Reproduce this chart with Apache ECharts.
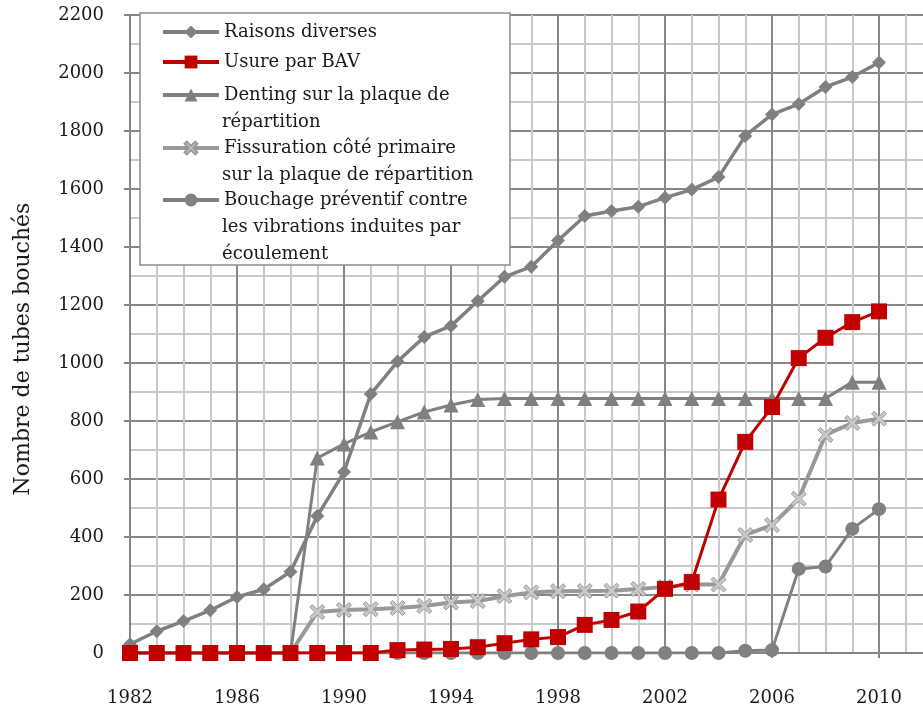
<!DOCTYPE html>
<html>
<head>
<meta charset="utf-8">
<script src="https://cdn.jsdelivr.net/npm/echarts@6/dist/echarts.min.js"></script>
<style>
html,body{margin:0;padding:0;background:#fff;}
#chart{width:923px;height:711px;}
</style>
</head>
<body>
<div id="chart"></div>
<script>
const years = [1982,1983,1984,1985,1986,1987,1988,1989,1990,1991,1992,1993,1994,1995,1996,1997,1998,1999,2000,2001,2002,2003,2004,2005,2006,2007,2008,2009,2010];
const raisonsDiverses = [30,75,110,147,193,220,280,472,624,893,1005,1090,1128,1214,1297,1332,1422,1507,1524,1539,1570,1598,1641,1783,1857,1893,1952,1986,2036];
const usureBAV = [0,0,0,0,0,0,0,0,0,0,10,12,14,20,34,47,55,97,114,143,221,245,529,728,848,1017,1087,1141,1178];
const denting = [0,0,0,0,0,0,0,672,721,762,797,831,855,874,878,878,878,878,878,878,878,878,878,878,878,878,878,934,934];
const fissuration = [0,0,0,0,0,0,0,141,148,151,155,162,174,179,196,209,213,214,215,221,228,236,236,407,441,532,752,793,808];
const bouchage = [0,0,0,0,0,0,0,0,0,0,0,0,0,0,0,0,0,0,0,0,0,0,0,8,10,290,298,428,496];

const seriesNames = ['Raisons diverses','Usure par BAV','Denting sur la plaque de répartition','Fissuration côté primaire sur la plaque de répartition','Bouchage préventif contre les vibrations induites par écoulement'];
// legend text split in lines as in the original legend
const legendLines = [
  ['Raisons diverses'],
  ['Usure par BAV'],
  ['Denting sur la plaque de','répartition'],
  ['Fissuration côté primaire','sur la plaque de répartition'],
  ['Bouchage préventif contre','les vibrations induites par','écoulement']
];
const yTicks = {min:0, max:2200, step:200};
const xTicks = {min:1982, max:2014, step:4, lastLabel:2010};

function pairs(vals){ return years.map((y,i)=>[y, vals[i]]); }

const SERIF = '"DejaVu Serif", serif';
const TEXT = '#1a1a1a';
const xPath = 'path://M2,0 L6,4 L10,0 L12,2 L8,6 L12,10 L10,12 L6,8 L2,12 L0,10 L4,6 L0,2 Z';

const chart = echarts.init(document.getElementById('chart'), null, {renderer:'canvas'});

const LH = 27;
const FS = 18;
const iconTargets = [32, 62, 95, 148, 200];
const legendTextX = 161 + 56 + 5;
const legends = seriesNames.map((nm, i) => ({
  show: true,
  orient: 'vertical',
  left: 161,
  top: iconTargets[i] - 13.5,
  padding: 0,
  itemGap: 0,
  itemWidth: 56,
  itemHeight: 16,
  selectedMode: false,
  lineStyle: {width: 4},
  data: [nm],
  formatter: function(){ return legendLines[i][0]; },
  textStyle: {fontFamily: SERIF, fontSize: FS, color: TEXT, lineHeight: LH},
  z: 5
}));

const graphics = [{
  type: 'rect', z: 3,
  shape: {x: 140, y: 13, width: 370, height: 252},
  style: {fill: '#ffffff', stroke: '#8c8c8c', lineWidth: 1.5}
}];
legendLines.forEach((lines, i) => {
  lines.slice(1).forEach((txt, k) => {
    graphics.push({
      type: 'text', z: 5,
      style: {x: legendTextX, y: iconTargets[i] + LH * (k + 1), text: txt, fill: TEXT,
              font: FS + 'px "DejaVu Serif", serif', textVerticalAlign: 'middle', verticalAlign: 'middle'}
    });
  });
});

const option = {
  animation: false,
  backgroundColor: '#ffffff',
  grid: {left: 130, right: -63, top: 15, bottom: 58, containLabel: false, outerBoundsMode: 'none'},
  graphic: graphics,
  legend: legends,
  xAxis: {
    type: 'value', min: xTicks.min, max: xTicks.max, interval: xTicks.step,
    axisLine: {show: true, onZero: false, lineStyle: {color: '#858585', width: 2}},
    axisTick: {show: true, length: 5, lineStyle: {color: '#858585', width: 2}},
    minorTick: {show: false, splitNumber: 4},
    splitLine: {show: true, lineStyle: {color: '#878787', width: 2}},
    minorSplitLine: {show: true, lineStyle: {color: '#c9c9c9', width: 2}},
    axisLabel: {margin: 36, fontFamily: SERIF, fontSize: 18, color: TEXT,
                formatter: v => (v <= xTicks.lastLabel ? String(v) : '')}
  },
  yAxis: {
    type: 'value', min: yTicks.min, max: yTicks.max, interval: yTicks.step,
    name: 'Nombre de tubes bouchés', nameLocation: 'middle', nameRotate: 90, nameGap: 96,
    nameTextStyle: {fontFamily: SERIF, fontSize: 22, color: TEXT, padding: [0, 30, 0, 0]},
    axisLine: {show: true, lineStyle: {color: '#858585', width: 2}},
    axisTick: {show: true, length: 6, lineStyle: {color: '#858585', width: 2}},
    minorTick: {show: false, splitNumber: 2},
    splitLine: {show: true, lineStyle: {color: '#878787', width: 2}},
    minorSplitLine: {show: true, lineStyle: {color: '#c9c9c9', width: 2}},
    axisLabel: {margin: 26, fontFamily: SERIF, fontSize: 18, color: TEXT, formatter: v => String(v)}
  },
  series: [
    {name: seriesNames[0], type: 'line', data: pairs(raisonsDiverses), symbol: 'diamond', symbolSize: 14,
     lineStyle: {color: '#808080', width: 3.5}, itemStyle: {color: '#808080'}, z: 2},
    {name: seriesNames[1], type: 'line', data: pairs(usureBAV), symbol: 'rect', symbolSize: 16,
     lineStyle: {color: '#c00000', width: 3}, itemStyle: {color: '#c00000'}, z: 4},
    {name: seriesNames[2], type: 'line', data: pairs(denting), symbol: 'triangle', symbolSize: 15,
     lineStyle: {color: '#808080', width: 3}, itemStyle: {color: '#808080'}, z: 2},
    {name: seriesNames[3], type: 'line', data: pairs(fissuration), symbol: xPath, symbolSize: 15,
     lineStyle: {color: '#999999', width: 4}, itemStyle: {color: '#c8c8c8', borderColor: '#999999', borderWidth: 1}, z: 2},
    {name: seriesNames[4], type: 'line', data: pairs(bouchage), symbol: 'circle', symbolSize: 14,
     lineStyle: {color: '#808080', width: 3}, itemStyle: {color: '#808080'}, z: 3}
  ]
};
chart.setOption(option);
</script>
</body>
</html>
